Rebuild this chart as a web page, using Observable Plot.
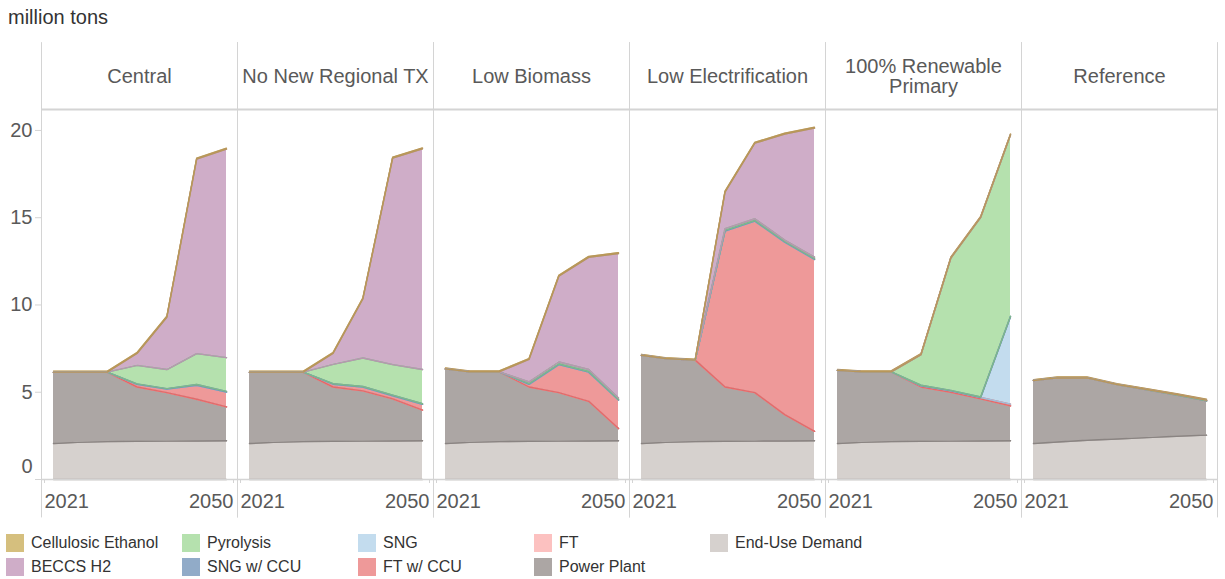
<!DOCTYPE html>
<html><head><meta charset="utf-8">
<script src="https://cdn.jsdelivr.net/npm/d3@7"></script>
<script src="https://cdn.jsdelivr.net/npm/@observablehq/plot@0.6"></script>
<style>
body{margin:0;background:#fff;font-family:"Liberation Sans",Arial,sans-serif;}
#wrap{position:relative;width:1225px;height:579px;overflow:hidden;}
#title{position:absolute;left:8px;top:5px;font-size:20px;line-height:24px;color:#333;}
#chart{position:absolute;left:0;top:32px;}
#legend{position:absolute;left:6px;top:534px;display:grid;grid-auto-flow:column;grid-template-rows:repeat(2,18px);grid-template-columns:repeat(5,176px);row-gap:6px;}
.item{display:flex;align-items:center;height:18px;font-size:16px;color:#333;white-space:nowrap;}
.sw{width:18px;height:18px;margin-right:7px;flex:none;}
</style></head>
<body>
<div id="wrap">
  <div id="title">million tons</div>
  <div id="chart"></div>
  <div id="legend"></div>
</div>
<script>
const scenarios = ["Central", "No New Regional TX", "Low Biomass", "Low Electrification", "100% Renewable Primary", "Reference"];
const years = [2021, 2025, 2030, 2035, 2040, 2045, 2050];
// stack order, bottom to top
const seriesOrder = ["End-Use Demand", "Power Plant", "FT", "FT w/ CCU", "SNG", "SNG w/ CCU", "Pyrolysis", "BECCS H2", "Cellulosic Ethanol"];
const fills = ["#d6d1ce", "#aca6a4", "#fcc1c0", "#ee9999", "#c3dcee", "#91abc8", "#b5e1ae", "#cfadc8", "#d5bf7e"];
const edges = ["#aaa3a0", "#8a8482", "#f19a9a", "#e26b6b", "#9fc0dc", "#7692b3", "#7db98a", "#b897b0", "#b8975a"];

// values per scenario (rows, in scenarios order) and year (columns)
const endUse = [
  [2.06, 2.13, 2.17, 2.19, 2.20, 2.21, 2.22],
  [2.06, 2.13, 2.17, 2.19, 2.20, 2.21, 2.22],
  [2.06, 2.13, 2.17, 2.19, 2.20, 2.21, 2.22],
  [2.06, 2.13, 2.17, 2.19, 2.20, 2.21, 2.22],
  [2.06, 2.13, 2.17, 2.19, 2.20, 2.21, 2.22],
  [2.06, 2.15, 2.25, 2.32, 2.40, 2.48, 2.54]
];
const powerPlant = [
  [4.09, 4.02, 3.98, 3.11, 2.78, 2.39, 1.94],
  [4.09, 4.02, 3.98, 3.11, 2.88, 2.41, 1.76],
  [4.28, 4.04, 4.00, 3.11, 2.78, 2.27, 0.70],
  [5.06, 4.80, 4.67, 3.11, 2.78, 1.51, 0.54],
  [4.19, 4.04, 4.00, 3.11, 2.80, 2.41, 2.00],
  [3.61, 3.67, 3.57, 3.12, 2.74, 2.36, 1.97]
];
const ft = [
  [0, 0, 0, 0, 0, 0, 0],
  [0, 0, 0, 0, 0, 0, 0],
  [0, 0, 0, 0, 0, 0, 0],
  [0, 0, 0, 0, 0, 0, 0],
  [0, 0, 0, 0, 0, 0, 0],
  [0, 0, 0, 0, 0, 0, 0]
];
const ftCCU = [
  [0, 0, 0, 0.15, 0.20, 0.80, 0.85],
  [0, 0, 0, 0.16, 0.22, 0.18, 0.33],
  [0, 0, 0, 0.15, 1.60, 1.67, 1.63],
  [0, 0, 0, 8.93, 9.82, 9.88, 9.85],
  [0, 0, 0, 0.07, 0.08, 0.08, 0.10],
  [0, 0, 0, 0, 0, 0, 0]
];
const sng = [
  [0, 0, 0, 0, 0, 0, 0],
  [0, 0, 0, 0, 0, 0, 0],
  [0, 0, 0, 0, 0, 0, 0],
  [0, 0, 0, 0, 0, 0, 0],
  [0, 0, 0, 0, 0, 0, 5.00],
  [0, 0, 0, 0, 0, 0, 0]
];
const sngCCU = [
  [0, 0, 0, 0.03, 0.03, 0.04, 0.04],
  [0, 0, 0, 0.03, 0.03, 0.03, 0.03],
  [0, 0, 0, 0.04, 0.04, 0.04, 0.04],
  [0, 0, 0, 0.04, 0.04, 0.04, 0.04],
  [0, 0, 0, 0.03, 0.03, 0.03, 0.03],
  [0, 0, 0, 0, 0, 0, 0]
];
const pyrolysis = [
  [0, 0, 0, 1.06, 1.09, 1.77, 1.93],
  [0, 0, 0, 1.11, 1.63, 1.75, 1.96],
  [0, 0, 0, 0.10, 0.11, 0.11, 0.08],
  [0, 0, 0, 0.10, 0.10, 0.08, 0.09],
  [0, 0, 0, 1.76, 7.58, 10.29, 10.40],
  [0, 0, 0, 0, 0.02, 0.03, 0.04]
];
const beccsH2 = [
  [0, 0, 0, 0.68, 3.00, 11.15, 11.95],
  [0, 0, 0, 0.62, 3.39, 11.84, 12.65],
  [0, 0, 0, 1.29, 4.92, 6.43, 8.28],
  [0, 0, 0, 2.10, 4.33, 6.07, 7.39],
  [0, 0, 0, 0, 0, 0, 0],
  [0, 0, 0, 0, 0, 0, 0]
];
const cellulosicEthanol = [
  [0.05, 0.05, 0.05, 0.05, 0.05, 0.05, 0.05],
  [0.05, 0.05, 0.05, 0.05, 0.05, 0.05, 0.05],
  [0.05, 0.05, 0.05, 0.05, 0.05, 0.05, 0.05],
  [0.05, 0.05, 0.05, 0.05, 0.05, 0.05, 0.05],
  [0.05, 0.05, 0.05, 0.05, 0.05, 0.05, 0.05],
  [0.05, 0.05, 0.05, 0.05, 0.05, 0.05, 0.05]
];
const seriesValues = [endUse, powerPlant, ft, ftCCU, sng, sngCCU, pyrolysis, beccsH2, cellulosicEthanol];

const data = [];
seriesOrder.forEach((s, si) => scenarios.forEach((sc, ci) => years.forEach((yr, yi) => {
  data.push({series: s, scenario: sc, year: yr, value: seriesValues[si][ci][yi]});
})));

const txt = "#595959";
const grid = "#d4d4d4";
const font = "Liberation Sans, Arial, sans-serif";

const chart = Plot.plot({
  width: 1225,
  height: 490,
  marginLeft: 40,
  marginRight: 7,
  marginTop: 77,
  marginBottom: 43,
  style: {fontFamily: font, background: "white"},
  fx: {domain: scenarios, padding: 0, axis: null, label: null},
  x: {domain: [2021, 2050], insetLeft: 12, insetRight: 11, label: null},
  y: {domain: [0, 21.2], label: null},
  color: {domain: [...seriesOrder, ...seriesOrder.map(s => s + " edge")], range: [...fills, ...edges]},
  marks: [
    Plot.areaY(data, {x: "year", y: "value", z: "series", fill: "series", fx: "scenario", order: seriesOrder}),
    Plot.lineY(data, Plot.stackY2({x: "year", y: "value", z: "series", stroke: d => d.series + " edge", fx: "scenario", order: seriesOrder, strokeWidth: 1.4})),
    Plot.lineY(data, Plot.stackY1({x: "year", y: "value", z: "series", stroke: d => d.series + " edge", fx: "scenario", order: seriesOrder, strokeWidth: 1.4})),
    Plot.ruleX([2021], {dx: -12, y1: 25.03, y2: -2.2, stroke: grid}),
    Plot.ruleX([2050], {dx: 11, y1: 25.03, y2: -2.2, stroke: grid}),
    Plot.ruleY([21.2], {stroke: grid, strokeWidth: 2}),
    Plot.ruleY([0], {stroke: grid, strokeWidth: 1.5}),
    Plot.axisY({ticks: [0, 5, 10, 15, 20], tickSize: 6, stroke: grid, fill: "none", label: null}),
    Plot.axisY({ticks: [5, 10, 15, 20], tickSize: 6, tickPadding: 3, stroke: "none", fill: txt, fontSize: 20, label: null}),
    Plot.axisY({ticks: [0], tickSize: 6, tickPadding: 3, stroke: "none", fill: txt, fontSize: 20, dy: -13, label: null}),
    Plot.axisX({ticks: [2021], tickSize: 4, tickPadding: 10, textAnchor: "start", dx: -9, stroke: grid, fill: txt, fontSize: 20, label: null, tickFormat: d => String(d)}),
    Plot.axisX({ticks: [2050], tickSize: 4, tickPadding: 10, textAnchor: "end", dx: 7, stroke: grid, fill: txt, fontSize: 20, label: null, tickFormat: d => String(d)}),
    Plot.text(scenarios, {fx: d => d, text: d => d === "100% Renewable Primary" ? "100% Renewable\nPrimary" : d, frameAnchor: "top", dy: -33, lineAnchor: "middle", fontSize: 20, fill: txt})
  ]
});
document.getElementById("chart").appendChild(chart);

// legend (top of stack first, column-major)
const legend = document.getElementById("legend");
[...seriesOrder].reverse().forEach(s => {
  const i = seriesOrder.indexOf(s);
  const item = document.createElement("div");
  item.className = "item";
  const sw = document.createElement("span");
  sw.className = "sw";
  sw.style.background = fills[i];
  const label = document.createElement("span");
  label.textContent = s;
  item.appendChild(sw);
  item.appendChild(label);
  legend.appendChild(item);
});
</script>
</body></html>
